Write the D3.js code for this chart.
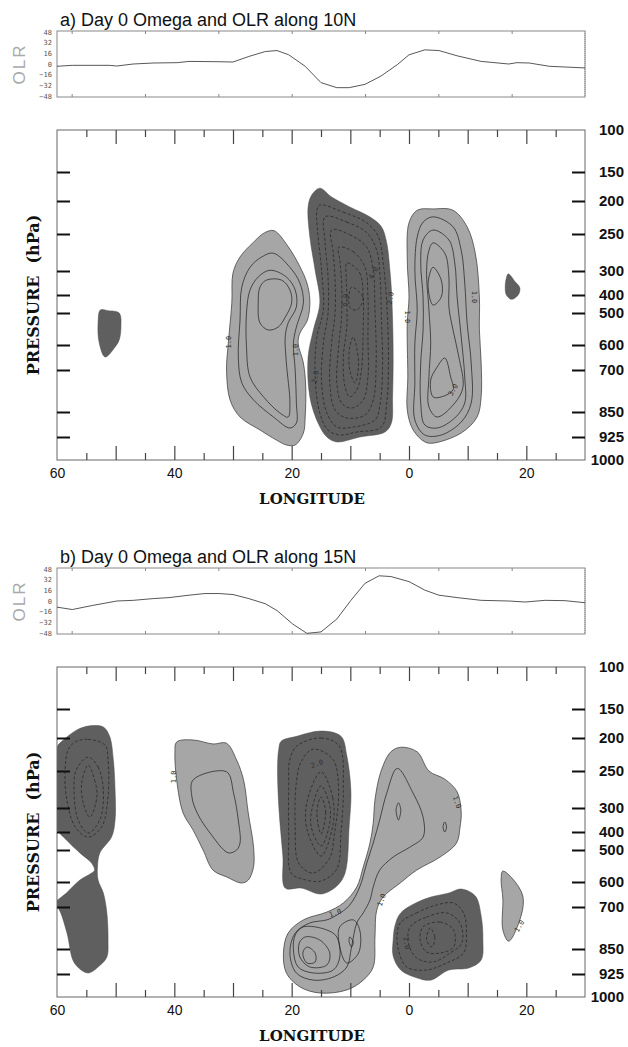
<!DOCTYPE html>
<html>
<head>
<meta charset="utf-8">
<script src="https://cdn.jsdelivr.net/npm/d3@7"></script>
<style>
  body { margin: 0; background: #fff; }
  svg { display: block; }
</style>
</head>
<body>
<svg id="chart"></svg>
<script>
const W = 628, H = 1047;

// ---- axes / tick values ----
const pLevels = [100, 150, 200, 250, 300, 400, 500, 600, 700, 850, 925, 1000];
const pTickLevels = [150, 200, 250, 300, 400, 500, 600, 700, 850, 925];
const lonLabels = [-60, -40, -20, 0, 20];
const lonMajor = [-50, -40, -30, -20, -10, 0, 10, 20];
const lonMinor = [-55, -45, -35, -25, -15, -5, 5, 15, 25];
const olrTicks = [-48, -32, -16, 0, 16, 32, 48];
const olrLonTicks = [-57.5, -45, -32.5, -20, -7.5, 5, 17.5];

// ---- OLR along 10N (panel a) and 15N (panel b), lon in deg E ----
const olrLonA = [-60, -57.4, -51.1, -49.8, -47, -43.6, -39.5, -37.5, -32.4, -30, -27.3, -24.5, -22.5, -20.5, -17.7, -15, -12.3, -10.2, -7.5, -4.8, -2, 0, 2.7, 5.1, 8.2, 12.3, 17, 18.4, 20.5, 23.9, 30];
const olrValA = [-3.4, -2, -2, -3, 0, 1.5, 2, 3.9, 3.4, 3, 11.3, 18.7, 20.2, 13.8, -3.4, -28, -35.5, -35.5, -30.5, -18.2, -1, 13.8, 21.2, 20.2, 12.3, 3.9, 0, 2, 1.5, -3.4, -5.9];
const olrLonB = [-60, -57.4, -53.9, -49.8, -47, -43.6, -40.9, -37.5, -34.8, -32.4, -30, -27.3, -24.5, -22.5, -19.8, -17.4, -15, -12.3, -9.9, -7.5, -5.1, -3.1, 0, 2.7, 5.1, 8.2, 12.3, 17, 19.8, 23.2, 26.6, 30];
const olrValB = [-9.2, -12.8, -6.6, 0, 1, 3.6, 5.1, 8.7, 11.2, 11.2, 9.7, 3.6, -4.1, -14.3, -34.7, -48.5, -46.4, -27, 1, 26.5, 37.8, 36.7, 29.1, 16.3, 8.7, 5.1, 1, 0, -1.5, 1, 0.5, -2.6];

// ---- omega contours, [lon, hPa] ----
// panel a
const aDarkWest = [[-52.6,483],[-51.3,487],[-49.4,500],[-49.1,544],[-49.4,584],[-50.1,608],[-51.8,648],[-52.8,594],[-53.0,531]];
const aLightW0 = [[-23.0,245],[-20.6,267],[-18.6,294],[-17.4,350],[-16.9,428],[-17.3,522],[-18.6,563],[-18.9,594],[-18.0,672],[-17.6,761],[-17.7,865],[-18.0,913],[-19.4,951],[-20.9,951],[-22.6,935],[-25.4,904],[-28.8,865],[-30.5,807],[-31.1,700],[-30.8,594],[-30.2,444],[-30.0,308],[-28.8,281],[-26.5,261],[-24.6,248]];
const aLightW1 = [[-23.1,276],[-20.3,295],[-18.6,350],[-18.0,444],[-19.2,544],[-19.7,594],[-19.4,700],[-19.2,818],[-19.2,883],[-20.3,898],[-23.1,865],[-26.5,807],[-28.5,746],[-29.1,648],[-28.8,522],[-28.5,367],[-27.1,295],[-25.1,281]];
const aLightW2 = [[-23.7,299],[-20.9,325],[-19.4,379],[-19.2,467],[-20.6,531],[-21.1,575],[-20.9,672],[-20.3,818],[-20.6,865],[-22.0,853],[-24.8,796],[-27.1,725],[-27.7,608],[-27.7,500],[-27.1,379],[-25.7,325]];
const aLightW3 = [[-24.3,338],[-21.7,338],[-20.3,379],[-20.0,444],[-21.1,513],[-22.3,544],[-24.0,553],[-25.4,531],[-25.7,444],[-25.4,367]];
const aDark0 = [[-15.2,178],[-13.2,193],[-10.1,209],[-6.7,224],[-4.7,239],[-3.8,262],[-3.3,295],[-3.0,379],[-2.8,522],[-2.7,648],[-2.8,796],[-3.0,883],[-4.1,910],[-8.4,925],[-12.3,941],[-14.0,925],[-15.5,883],[-16.9,796],[-17.2,648],[-16.3,553],[-15.2,444],[-16.0,299],[-16.9,254],[-17.2,209],[-16.6,190]];
const aDark1 = [[-15.2,206],[-11.2,217],[-7.2,233],[-5.2,254],[-4.4,289],[-3.8,444],[-3.5,648],[-3.8,818],[-4.7,895],[-8.9,910],[-11.8,919],[-13.8,904],[-15.2,853],[-16.0,725],[-15.7,575],[-14.6,483],[-14.9,299],[-15.6,244],[-15.7,214]];
const aDark2 = [[-14.3,224],[-10.6,232],[-7.2,248],[-5.5,272],[-4.9,338],[-4.7,522],[-4.5,672],[-4.9,818],[-5.8,874],[-9.5,895],[-12.3,895],[-14.0,853],[-14.9,746],[-14.6,594],[-13.8,500],[-13.8,325],[-14.3,262]];
const aDark3 = [[-13.2,244],[-10.1,251],[-7.2,268],[-6.1,299],[-5.8,483],[-5.6,672],[-6.1,807],[-7.5,859],[-10.6,868],[-12.6,843],[-13.5,746],[-13.2,594],[-12.6,500],[-12.6,338],[-12.9,276]];
const aDark4 = [[-12.0,268],[-9.5,274],[-7.5,295],[-7.0,411],[-7.0,575],[-7.0,725],[-7.8,807],[-9.8,836],[-11.5,818],[-12.3,746],[-12.0,608],[-11.5,513],[-11.5,338],[-11.8,285]];
const aDark5 = [[-10.6,289],[-8.4,308],[-7.8,411],[-7.8,544],[-8.1,700],[-8.9,771],[-10.1,796],[-10.9,761],[-11.2,648],[-10.6,544],[-10.6,411],[-10.7,325]];
const aDark6 = [[-9.8,367],[-7.8,417],[-8.9,483],[-10.1,467]];
const aDark7 = [[-9.5,575],[-8.6,672],[-9.2,746],[-10.1,700],[-10.1,608]];
const aLightE0 = [[4.1,212],[7.5,214],[9.9,239],[11.3,276],[12.0,411],[12.0,553],[12.3,672],[12.3,796],[11.6,865],[8.9,913],[4.1,945],[2.7,941],[0.7,904],[-0.3,843],[-0.2,725],[-0.3,594],[-0.3,531],[0,411],[-0.3,285],[0,233],[1.4,214]];
const aLightE1 = [[4.1,224],[7.5,239],[8.9,272],[9.5,350],[9.9,531],[10.6,672],[10.6,818],[8.9,880],[5.5,919],[2.7,919],[1.0,874],[1.0,746],[1.0,594],[1.4,483],[1.0,299],[1.4,254],[2.4,232]];
const aLightE2 = [[4.1,244],[6.8,258],[7.8,289],[8.2,411],[8.9,575],[9.5,725],[9.5,818],[7.8,868],[4.8,898],[2.7,889],[2.0,818],[2.0,672],[2.4,553],[2.4,411],[2.0,289],[2.4,258]];
const aLightE3 = [[4.1,262],[6.1,276],[6.8,325],[6.8,467],[7.5,553],[8.5,648],[9.2,761],[7.8,818],[4.8,865],[3.4,832],[3.4,725],[3.7,594],[3.4,483],[3.0,299],[3.4,272]];
const aLightE4 = [[4.1,295],[5.5,338],[5.5,411],[4.1,456],[3.3,379],[3.4,325]];
const aLightE5 = [[6.1,652],[7.1,725],[7.5,771],[5.5,796],[4.1,796],[3.7,736],[4.8,688]];
const aDarkEast = [[16.9,312],[18.1,345],[18.9,371],[18.6,400],[17.5,424],[16.6,400],[16.4,365],[16.6,329]];

// panel b
const bDarkW0 = [[-60,214],[-58.9,203],[-56.6,186],[-54.4,179],[-52.1,181],[-51.0,198],[-50.4,233],[-50.1,276],[-50.1,350],[-50.7,428],[-52.7,509],[-53.1,553],[-53.0,594],[-52.1,644],[-51.5,721],[-51.3,818],[-51.5,874],[-52.8,901],[-54.7,922],[-56.3,907],[-57.3,883],[-58.3,793],[-59.7,707],[-60.5,690],[-58.4,644],[-56.1,594],[-54.1,572],[-53.6,563],[-54.1,541],[-56.1,509],[-58.4,444],[-60.3,379],[-60.5,300]];
const bDarkW1 = [[-56.9,206],[-54.7,202],[-51.8,211],[-51.3,233],[-51.3,285],[-52.4,379],[-54.7,428],[-56.9,379],[-58.4,285],[-58.6,244],[-58.1,218]];
const bDarkW2 = [[-54.7,229],[-53.0,244],[-52.1,276],[-52.7,350],[-54.7,406],[-56.4,350],[-57.1,276],[-56.7,248]];
const bDarkW3 = [[-54.7,241],[-53.6,262],[-53.2,285],[-54.4,338],[-55.5,294],[-55.8,266]];
const bLightW0 = [[-39.6,206],[-36.8,203],[-33.4,209],[-31.1,208],[-29.4,233],[-28.2,262],[-27.4,321],[-26.5,483],[-26.5,553],[-27.4,594],[-28.5,604],[-31.1,584],[-33.4,563],[-35.1,500],[-36.8,392],[-38.5,321],[-39.6,262],[-39.9,223]];
const bLightW1 = [[-36.8,262],[-31.1,251],[-29.9,280],[-29.1,350],[-28.8,461],[-29.4,500],[-30.8,509],[-33.9,406],[-36.1,321],[-37.0,285]];
const bDarkC0 = [[-21.8,205],[-19.1,197],[-15.0,188],[-11.6,197],[-10.6,227],[-9.9,278],[-10.2,375],[-10.9,572],[-12.3,616],[-15.0,648],[-18.4,624],[-21.1,624],[-21.5,519],[-22.2,297],[-22.4,242],[-22.2,217]];
const bDarkC1 = [[-19.1,212],[-15.0,200],[-11.9,212],[-11.2,274],[-11.6,406],[-12.3,559],[-15.0,597],[-18.1,591],[-20.1,572],[-20.5,406],[-20.5,274],[-20.3,232]];
const bDarkC2 = [[-16.4,217],[-13.0,232],[-12.0,274],[-12.7,406],[-13.6,528],[-16.4,572],[-18.8,541],[-19.4,375],[-19.2,265],[-18.4,236]];
const bDarkC3 = [[-15.0,251],[-13.0,286],[-13.0,375],[-15.0,519],[-17.4,388],[-17.4,292]];
const bDarkC4 = [[-15.0,270],[-13.5,297],[-13.6,375],[-15.0,478],[-16.7,375],[-16.4,297]];
const bDarkC5 = [[-15.0,285],[-14.2,317],[-15.0,411],[-15.7,317]];
const bLightC0 = [[-1.4,214],[1.4,221],[3.4,250],[6.1,261],[8.2,278],[8.9,317],[8.7,379],[8.1,461],[5.3,522],[1.3,563],[-1.5,604],[-4.4,660],[-5.5,711],[-5.8,807],[-6.1,904],[-7.8,945],[-10.6,977],[-15.2,987],[-18.6,967],[-20.9,922],[-21.4,862],[-20.6,793],[-18.0,746],[-14.0,718],[-11.2,684],[-8.9,620],[-7.8,553],[-6.65,461],[-6.1,363],[-5.8,289],[-4.8,251],[-3.1,221]];
const bLightC1 = [[-2.0,246],[0.7,280],[2.4,338],[2.4,428],[0.2,483],[-2.7,522],[-5.0,563],[-6.1,620],[-6.65,672],[-7.8,721],[-8.9,757],[-9.8,843],[-10.6,904],[-12.9,935],[-16.3,945],[-19.2,922],[-20.3,862],[-19.4,793],[-16.9,757],[-14.0,746],[-12.3,729],[-10.1,692],[-8.4,620],[-7.2,541],[-6.1,461],[-5.0,350],[-3.8,280]];
const bLightC2 = [[-18.0,771],[-14.0,782],[-12.3,807],[-11.8,874],[-12.9,913],[-16.3,922],[-18.9,904],[-19.7,853],[-19.4,800]];
const bLightC3 = [[-17.7,807],[-15.2,818],[-13.5,862],[-14.0,898],[-16.9,904],[-18.6,874],[-18.7,829]];
const bLightC4 = [[-17.4,843],[-16.0,862],[-16.0,889],[-17.4,892],[-18.1,862]];
const bLightC5 = [[-11.8,771],[-9.5,746],[-8.4,782],[-8.6,862],[-10.6,892],[-11.8,843]];
const bLightC6 = [[-10.1,807],[-9.5,825],[-9.8,843],[-10.2,825]];
const bLightC7 = [[-1.8,293],[-1.4,308],[-1.8,350],[-2.2,308]];
const bLightC8 = [[6.1,358],[6.4,379],[6.1,400],[5.8,379]];
const bDarkE0 = [[-2.4,768],[-1.4,721],[2.7,668],[6.8,644],[8.9,628],[11.3,656],[12.3,732],[12.6,818],[12.3,883],[10.2,907],[6.8,913],[3.7,945],[1.4,938],[-1.4,913],[-2.7,871],[-2.7,818]];
const bDarkE1 = [[-1.5,757],[1.3,721],[4.7,692],[7.6,684],[9.3,721],[9.8,793],[9.3,862],[6.4,892],[3.0,913],[-0.4,904],[-1.8,853],[-2.0,793]];
const bDarkE2 = [[0.2,771],[3.0,736],[6.4,721],[8.7,757],[9.0,829],[7.0,862],[4.1,889],[1.3,877],[-0.1,829]];
const bDarkE3 = [[2.4,771],[5.3,754],[7.6,782],[7.6,843],[5.3,862],[3.0,859],[1.9,818]];
const bDarkE4 = [[3.6,775],[4.4,807],[3.9,843],[3.0,818]];
const bLightE0 = [[16.0,566],[17.7,591],[19.4,656],[19.1,732],[17.0,822],[16.0,782],[16.0,668],[15.7,591]];

// contour labels: [text, lon, hPa]
const labelsA = [["1.0",-30.8,591],["1.0",-19.4,620],["1.0",-0.2,512],["1.0",11.2,411],["3.0",7.5,771],["2.0",-16.0,725],["6.0",-10.9,428],["4.0",-6.1,308],["2.0",-3.2,417]];
const labelAnglesA = [-90,-90,90,90,-60,-80,-80,-60,-80];
const labelsB = [["1.0",-40.2,258],["2.0",-15.7,239],["1.0",8.2,292],["1.0",-12.6,721],["1.0",-4.7,672],["2.0",-0.4,829],["1.0",18.8,768]];
const labelAnglesB = [-90,-20,70,-20,-70,80,-60];

// ---- drawing ----
const LIGHT = "#a6a6a6", DARK = "#5f5f5f";

const svg = d3.select("#chart").attr("width", W).attr("height", H)
  .style("font-family", "'Liberation Sans', Arial, sans-serif");
svg.append("rect").attr("width", W).attr("height", H).attr("fill", "#fff");

const x = d3.scaleLinear().domain([-60, 30]).range([57, 585]);
// the plot's pressure axis is not linear or log: piecewise positions per level
const y = d3.scaleLinear().domain(pLevels)
  .range([130, 172, 201, 234, 271, 295, 313, 345, 370, 412, 437, 460]);
const yOlr = d3.scaleLinear().domain([-48, 48]).range([96, 32]);

const ring = d3.line().x(d => x(d[0])).y(d => y(d[1]))
  .curve(d3.curveCatmullRomClosed.alpha(0.5));

function drawPanel(off, id, title, olrLon, olrVal, fills, lines, labels, angles) {
  const g = svg.append("g").attr("transform", "translate(0," + off + ")");

  // title
  g.append("text").attr("x", 60).attr("y", 26)
    .attr("font-size", 18).attr("fill", "#111").text(title);

  // OLR strip
  g.append("rect").attr("x", 57).attr("y", 31).attr("width", 528).attr("height", 66)
    .attr("fill", "none").attr("stroke", "#888").attr("stroke-width", 1);
  g.append("line").attr("x1", 585).attr("x2", 585).attr("y1", 31).attr("y2", 97)
    .attr("stroke", "#aaa").attr("stroke-width", 2).attr("stroke-dasharray", "1,1");
  const olrAxis = g.append("g").attr("transform", "translate(57,0)")
    .call(d3.axisLeft(yOlr).tickValues(olrTicks).tickSize(0).tickPadding(5));
  olrAxis.select(".domain").remove();
  olrAxis.selectAll("text").attr("font-size", 7).attr("fill", "#555")
    .attr("font-family", "'DejaVu Sans Mono', monospace");
  [[31, d3.axisTop], [97, d3.axisBottom]].forEach(([yy, ax]) => {
    const a = g.append("g").attr("transform", "translate(0," + yy + ")")
      .call(ax(x).tickValues(olrLonTicks).tickSize(-3).tickFormat(""));
    a.select(".domain").remove();
    a.selectAll("line").attr("stroke", "#888");
  });
  g.append("path")
    .datum(d3.zip(olrLon, olrVal))
    .attr("fill", "none").attr("stroke", "#444").attr("stroke-width", 0.9)
    .attr("d", d3.line().x(d => x(d[0])).y(d => yOlr(d[1])));
  g.append("text").attr("transform", "translate(25,64) rotate(-90)")
    .attr("text-anchor", "middle").attr("font-size", 17).attr("fill", "#aaa")
    .attr("letter-spacing", 2).text("OLR");

  // contour plot
  g.append("clipPath").attr("id", id)
    .append("rect").attr("x", 57).attr("y", 130).attr("width", 528).attr("height", 330);
  const cg = g.append("g").attr("clip-path", "url(#" + id + ")");
  cg.selectAll("path.fill").data(fills).join("path")
    .attr("class", "fill")
    .attr("d", d => ring(d.ring))
    .attr("fill", d => d.tone === "dark" ? DARK : LIGHT)
    .attr("stroke", d => d.tone === "dark" ? "#4a4a4a" : "#333")
    .attr("stroke-width", d => d.tone === "dark" ? 0.5 : 0.7);
  cg.selectAll("path.iso").data(lines).join("path")
    .attr("class", "iso")
    .attr("d", d => ring(d.ring))
    .attr("fill", "none").attr("stroke", "#262626").attr("stroke-width", 0.75)
    .attr("stroke-dasharray", d => d.dash ? "3,2" : null);
  cg.selectAll("text.lab").data(labels).join("text")
    .attr("class", "lab")
    .attr("transform", (d, i) => "translate(" + x(d[1]) + "," + y(d[2]) + ") rotate(" + angles[i] + ")")
    .attr("text-anchor", "middle").attr("dy", "0.35em")
    .attr("font-size", 7).attr("fill", "#333")
    .attr("font-family", "'DejaVu Sans Mono', monospace")
    .text(d => d[0]);

  // frame
  g.append("rect").attr("x", 57).attr("y", 130).attr("width", 528).attr("height", 330)
    .attr("fill", "none").attr("stroke", "#666").attr("stroke-width", 1);

  // longitude ticks (inward) top and bottom
  [[130, d3.axisTop], [460, d3.axisBottom]].forEach(([yy, ax]) => {
    [[lonMajor, 14], [lonMinor, 7]].forEach(([vals, len]) => {
      const a = g.append("g").attr("transform", "translate(0," + yy + ")")
        .call(ax(x).tickValues(vals).tickSize(-len).tickFormat(""));
      a.select(".domain").remove();
      a.selectAll("line").attr("stroke", "#444").attr("stroke-width", 1.2);
    });
  });
  const lonAxis = g.append("g").attr("transform", "translate(0,460)")
    .call(d3.axisBottom(x).tickValues(lonLabels).tickSize(0).tickPadding(8)
      .tickFormat(d => Math.abs(d)));
  lonAxis.select(".domain").remove();
  lonAxis.selectAll("text").attr("font-size", 14).attr("fill", "#111")
    .attr("font-family", "'Liberation Sans', Arial, sans-serif");

  // pressure ticks, left and right (inward, heavy)
  const pl = g.append("g").attr("transform", "translate(57,0)")
    .call(d3.axisRight(y).tickValues(pTickLevels).tickSize(13).tickFormat(""));
  pl.select(".domain").remove();
  pl.selectAll("line").attr("stroke", "#111").attr("stroke-width", 2);
  const pr = g.append("g").attr("transform", "translate(585,0)")
    .call(d3.axisLeft(y).tickValues(pTickLevels).tickSize(13).tickFormat(""));
  pr.select(".domain").remove();
  pr.selectAll("line").attr("stroke", "#111").attr("stroke-width", 2);
  const plab = g.append("g").attr("transform", "translate(585,0)")
    .call(d3.axisRight(y).tickValues(pLevels).tickSize(0).tickPadding(39)
      .tickFormat(d3.format("d")));
  plab.select(".domain").remove();
  plab.selectAll("text").attr("text-anchor", "end").attr("font-size", 15)
    .attr("font-weight", "bold").attr("fill", "#111")
    .attr("font-family", "'Liberation Sans', Arial, sans-serif");

  // axis titles
  g.append("text").attr("x", 312).attr("y", 504).attr("text-anchor", "middle")
    .attr("font-family", "'DejaVu Serif', serif").attr("font-weight", "bold")
    .attr("font-size", 15).attr("fill", "#111").text("LONGITUDE");
  const pt = g.append("text").attr("transform", "translate(39,295) rotate(-90)")
    .attr("text-anchor", "middle")
    .attr("font-family", "'DejaVu Serif', serif").attr("font-weight", "bold")
    .attr("font-size", 16).attr("fill", "#111");
  pt.append("tspan").text("PRESSURE");
  pt.append("tspan").attr("dx", 12).text("(hPa)");
}

drawPanel(0, "clipA", "a) Day 0 Omega and OLR along 10N", olrLonA, olrValA,
  [{ring: aDarkWest, tone: "dark"}, {ring: aLightW0, tone: "light"},
   {ring: aDark0, tone: "dark"}, {ring: aLightE0, tone: "light"},
   {ring: aDarkEast, tone: "dark"}],
  [{ring: aLightW1}, {ring: aLightW2}, {ring: aLightW3},
   {ring: aDark1, dash: true}, {ring: aDark2, dash: true}, {ring: aDark3, dash: true},
   {ring: aDark4, dash: true}, {ring: aDark5, dash: true}, {ring: aDark6, dash: true},
   {ring: aDark7, dash: true},
   {ring: aLightE1}, {ring: aLightE2}, {ring: aLightE3}, {ring: aLightE4}, {ring: aLightE5}],
  labelsA, labelAnglesA);

drawPanel(537, "clipB", "b) Day 0 Omega and OLR along 15N", olrLonB, olrValB,
  [{ring: bDarkW0, tone: "dark"}, {ring: bLightW0, tone: "light"},
   {ring: bDarkC0, tone: "dark"}, {ring: bLightC0, tone: "light"},
   {ring: bDarkE0, tone: "dark"}, {ring: bLightE0, tone: "light"}],
  [{ring: bDarkW1, dash: true}, {ring: bDarkW2, dash: true}, {ring: bDarkW3, dash: true},
   {ring: bLightW1},
   {ring: bDarkC1, dash: true}, {ring: bDarkC2, dash: true}, {ring: bDarkC3, dash: true},
   {ring: bDarkC4, dash: true}, {ring: bDarkC5, dash: true},
   {ring: bLightC1}, {ring: bLightC2}, {ring: bLightC3}, {ring: bLightC4},
   {ring: bLightC5}, {ring: bLightC6}, {ring: bLightC7}, {ring: bLightC8},
   {ring: bDarkE1, dash: true}, {ring: bDarkE2, dash: true}, {ring: bDarkE3, dash: true},
   {ring: bDarkE4, dash: true}],
  labelsB, labelAnglesB);
</script>
</body>
</html>
